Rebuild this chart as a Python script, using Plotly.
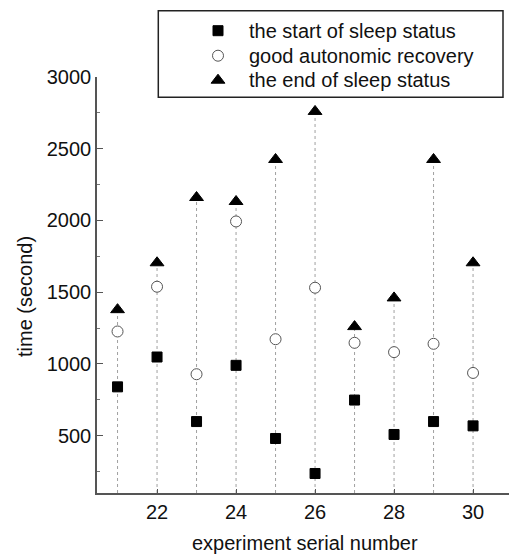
import plotly.graph_objects as go

experiment = [21, 22, 23, 24, 25, 26, 27, 28, 29, 30]
start_sleep = [840, 1048, 598, 990, 480, 236, 748, 508, 598, 568]
good_recovery = [1226, 1538, 928, 1993, 1172, 1531, 1147, 1082, 1140, 937]
end_sleep = [1378, 1705, 2160, 2132, 2425, 2760, 1260, 1460, 2425, 1705]
series_names = ["the start of sleep status", "good autonomic recovery",
                "the end of sleep status"]

y_range = [100, 3000]
x_range = [20.48, 30.91]
x_ticks = [22, 24, 26, 28, 30]
y_ticks = [500, 1000, 1500, 2000, 2500, 3000]

FONT = "Liberation Sans, Arial, sans-serif"
W, H = 509, 555
L, R, T, B = 97, 0, 77, 62

symbols = ["square", "circle", "triangle-up"]
fills = ["black", "white", "black"]
outlines = ["black", "#555555", "black"]
sizes = [10, 11, 12]
series_values = [start_sleep, good_recovery, end_sleep]

# legend key layout (pixel positions on the page)
leg_sym_x = 218
leg_txt_x = 247
leg_rows = [30.7, 55.7, 80.2]


def px(xp):
    return xp / W


def py(yp):
    return (H - yp) / H


# dotted drop lines from axis bottom up to the end-of-sleep marker
line_x, line_y = [], []
for xv, yv in zip(experiment, end_sleep):
    line_x += [xv, xv, None]
    line_y += [y_range[0], yv, None]

fig = go.Figure()
fig.add_trace(go.Scatter(x=line_x, y=line_y, mode="lines",
                         line=dict(color="#a0a0a0", width=1, dash="dot"),
                         showlegend=False, hoverinfo="skip"))
for name, vals, sym, fc, oc, sz in zip(series_names, series_values, symbols,
                                        fills, outlines, sizes):
    fig.add_trace(go.Scatter(x=experiment, y=vals, mode="markers", name=name,
                             showlegend=False,
                             marker=dict(symbol=sym, size=sz, color=fc,
                                         line=dict(color=oc, width=1))))

# legend key symbols on a full-page pixel-space axis pair
for sym, fc, oc, sz, ry in zip(symbols, fills, outlines, sizes, leg_rows):
    fig.add_trace(go.Scatter(x=[leg_sym_x], y=[ry], mode="markers",
                             xaxis="x2", yaxis="y2", showlegend=False,
                             hoverinfo="skip",
                             marker=dict(symbol=sym, size=sz, color=fc,
                                         line=dict(color=oc, width=1))))

annotations = [
    dict(text="experiment serial number", xref="paper", yref="paper",
         x=px(304.7), y=py(543), xanchor="center", yanchor="middle",
         showarrow=False, font=dict(size=20)),
    dict(text="time (second)", xref="paper", yref="paper",
         x=px(25), y=py(297), xanchor="center", yanchor="middle",
         textangle=-90, showarrow=False, font=dict(size=20)),
]
for name, ry in zip(series_names, leg_rows):
    annotations.append(dict(text=name, xref="paper", yref="paper",
                            x=px(leg_txt_x), y=py(ry), xanchor="left",
                            yanchor="middle", showarrow=False,
                            font=dict(size=20)))

fig.update_layout(
    width=W, height=H,
    margin=dict(l=0, r=0, t=0, b=0, pad=0, autoexpand=False),
    plot_bgcolor="rgba(0,0,0,0)", paper_bgcolor="white",
    font=dict(family=FONT, size=20, color="#111111"),
    showlegend=False,
    xaxis=dict(domain=[L / W, (W - R) / W], anchor="y",
               range=x_range, tickvals=x_ticks, ticks="inside", ticklen=4,
               tickcolor="#555555", showline=True, linecolor="#555555", linewidth=1.5,
               showgrid=False, zeroline=False, tickfont=dict(size=20)),
    yaxis=dict(domain=[B / H, (H - T) / H], anchor="x",
               range=y_range, tickvals=y_ticks, ticks="inside", ticklen=6,
               tickcolor="#555555", showline=True, linecolor="#555555", linewidth=1.5,
               showgrid=False, zeroline=False, tickfont=dict(size=20),
               minor=dict(dtick=250, tick0=0, ticks="inside", ticklen=3,
                          tickcolor="#777777")),
    xaxis2=dict(domain=[0, 1], anchor="y2", range=[0, W], visible=False,
                fixedrange=True),
    yaxis2=dict(domain=[0, 1], anchor="x2", range=[H, 0], visible=False,
                fixedrange=True),
    shapes=[dict(type="rect", xref="paper", yref="paper",
                 x0=px(158.3), x1=px(503), y0=py(97.3), y1=py(10.7),
                 line=dict(color="#222222", width=1.5), fillcolor="white",
                 layer="below")],
    annotations=annotations,
)

fig.write_html("out.html")
